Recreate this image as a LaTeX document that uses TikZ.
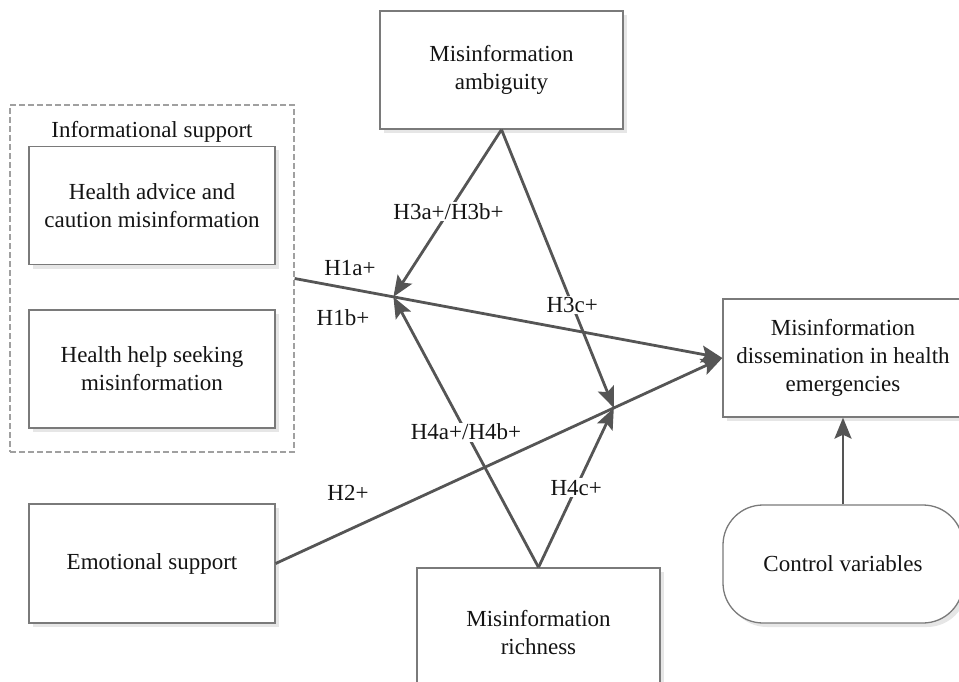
\documentclass[tikz,border=0pt]{standalone}
\usepackage{fontspec}
\setmainfont{Liberation Serif}
\usetikzlibrary{arrows.meta,calc,shadows}
\definecolor{linec}{HTML}{555555}
\definecolor{boxc}{HTML}{7A7A7A}
\definecolor{dashc}{HTML}{A0A0A0}
\definecolor{shadc}{HTML}{E6E6E6}
\begin{document}
\begin{tikzpicture}[x=1pt,y=-1pt,
  every node/.style={font=\fontsize{23}{28}\selectfont, text=black!92, align=center},
  varbox/.style={draw=boxc, line width=1.3pt, fill=white, minimum width=246pt, minimum height=118pt, inner sep=0pt,
    general shadow={fill=shadc, shadow xshift=4pt, shadow yshift=-4pt}},
  groupbox/.style={draw=dashc, dash pattern=on 6pt off 3pt, line width=1.2pt, minimum width=284pt, minimum height=347pt, inner sep=0pt},
  conn/.style={draw=linec, line width=2.8pt, -{Stealth[length=21pt,width=17pt,inset=4pt]}},
  hlab/.style={fill=white, inner sep=1.5pt},
  slab/.style={inner sep=0pt}
]
\useasboundingbox (0,0) rectangle (959,682);

\node[groupbox] (grp) at (152,278.5) {};
\node[slab] (infolab) at (152,132) {Informational support};
\node[varbox] (ha) at (152,205.5) {Health advice and\\caution misinformation};
\node[varbox] (hh) at (152,369) {Health help seeking\\misinformation};
\node[varbox, minimum height=119pt] (emo) at (152,563.5) {Emotional support};
\node[varbox, minimum width=243pt] (amb) at (501.5,70) {Misinformation\\ambiguity};
\node[varbox, minimum width=243pt, minimum height=130pt] (rich) at (538.5,633) {Misinformation\\richness};
\node[varbox, minimum width=240pt] (out) at (843,358) {Misinformation\\dissemination in health\\emergencies};
\node[varbox, minimum width=240pt, rounded corners=40pt] (ctrl) at (843,564) {Control variables};

\coordinate (P1) at ($(grp.east)!0.231!(out.west)$);
\coordinate (P2) at ($(emo.east)!0.757!(out.west)$);

\draw[conn] (grp.east) -- (out.west);
\draw[conn] (emo.east) -- (out.west);
\draw[conn] (amb.south) -- node[hlab, pos=0.49] (l3ab) {H3a+/H3b+} (P1);
\draw[conn] (amb.south) -- node[hlab, pos=0.63] (l3c) {H3c+} (P2);
\draw[conn] (rich.north) -- node[hlab, pos=0.5] (l4ab) {H4a+/H4b+} (P1);
\draw[conn] (rich.north) -- node[hlab, pos=0.5] (l4c) {H4c+} (P2);
\draw[conn] (ctrl.north) -- (out.south);

\node[slab] (l1a) at (350,268) {H1a+};
\node[slab] (l1b) at (343,318) {H1b+};
\node[slab] (l2) at (348,493) {H2+};
\end{tikzpicture}
\end{document}
